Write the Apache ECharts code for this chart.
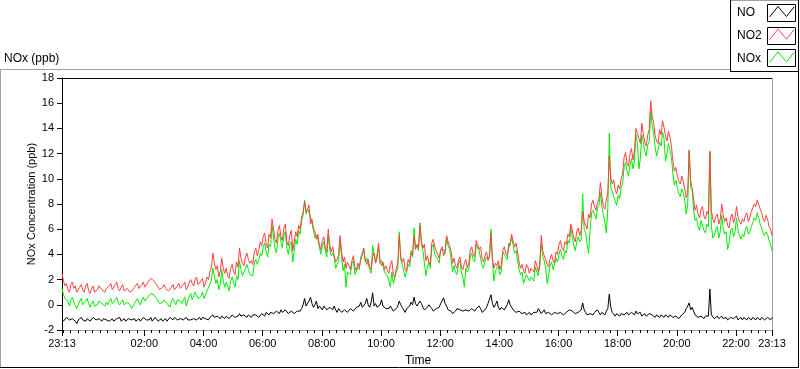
<!DOCTYPE html>
<html><head><meta charset="utf-8">
<script src="https://cdn.jsdelivr.net/npm/echarts@6/dist/echarts.min.js"></script>
<style>html,body{margin:0;padding:0;background:#fff}#c{width:800px;height:369px}</style>
</head><body><div id="c"></div>
<script>
// Samples every 3 minutes, starting at 23:13 (offset in hours)
const sampleStepHours = 0.05;
const seriesNames = ['NO', 'NO2', 'NOx'];

const no = [
 -1.1,-1.3,-1.2,-1.0,-1.0,-1.2,-1.3,-1.1,-1.2,-1.3,-1.5,-1.2,-1.1,-1.0,-1.2,-1.3,-1.3,-1.1,-1.1,-1.3,
 -1.2,-1.0,-1.1,-1.2,-1.3,-1.1,-1.2,-1.3,-1.1,-1.0,-1.2,-1.1,-1.3,-1.2,-1.1,-1.3,-1.2,-1.1,-1.2,-1.0,
 -1.3,-1.2,-1.1,-1.3,-1.2,-1.1,-1.0,-1.2,-1.2,-1.1,-1.3,-1.2,-1.1,-1.3,-1.2,-1.0,-1.1,-1.2,-1.3,-1.2,
 -1.0,-1.3,-1.2,-1.0,-1.1,-1.3,-1.2,-1.1,-1.3,-1.2,-1.1,-1.3,-1.2,-1.0,-1.1,-1.2,-1.0,-1.1,-1.2,-1.3,
 -1.1,-1.0,-1.2,-1.1,-1.0,-1.2,-1.1,-1.2,-1.3,-1.1,-1.0,-1.2,-1.1,-1.0,-1.2,-1.0,-0.9,-1.1,-1.1,-1.2,
 -1.0,-1.1,-0.8,-1.0,-1.1,-0.9,-1.0,-1.1,-0.9,-1.0,-1.1,-0.9,-0.8,-1.1,-1.0,-0.8,-0.9,-1.0,-1.1,-0.9,
 -0.7,-0.9,-1.0,-0.8,-0.9,-1.0,-0.8,-0.9,-1.0,-0.8,-0.9,-0.8,-0.7,-1.0,-0.9,-0.7,-0.8,-0.9,-0.6,-0.7,
 -0.8,-0.6,-0.5,-0.7,-0.7,-0.5,-0.6,-0.7,-0.4,-0.6,-0.6,-0.4,-0.5,-0.7,-0.7,-0.5,-0.4,-0.7,-0.6,-0.5,
 -0.4,-0.5,-0.3,0.0,0.5,-0.1,0.0,0.3,0.6,0.1,-0.2,0.0,0.3,-0.3,-0.1,-0.2,-0.4,-0.1,-0.2,-0.4,
 -0.5,-0.2,-0.3,-0.4,-0.1,-0.4,-0.6,-0.3,-0.4,-0.6,-0.7,-0.4,-0.3,-0.6,-0.5,-0.3,-0.2,-0.5,-0.6,-0.2,
 -0.3,-0.1,0.2,-0.2,-0.1,0.1,0.5,0.0,-0.2,0.2,0.95,-0.1,0.1,-0.2,-0.3,0.0,0.4,-0.1,-0.2,-0.3,
 -0.4,-0.3,-0.1,-0.2,-0.5,-0.5,-0.3,-0.1,0.3,0.0,-0.2,-0.4,-0.6,-0.3,-0.4,-0.1,0.2,0.0,0.6,0.1,
 -0.1,0.0,0.3,0.1,-0.2,-0.4,-0.4,-0.2,0.0,-0.1,-0.3,-0.5,-0.6,-0.3,-0.4,-0.2,0.1,0.2,0.55,0.1,
 -0.1,-0.4,-0.3,-0.5,-0.7,-0.6,-0.5,-0.3,-0.2,-0.4,-0.4,-0.5,-0.6,-0.4,-0.3,-0.5,-0.5,-0.3,-0.4,-0.5,
 -0.3,-0.4,-0.1,-0.3,-0.6,-0.5,-0.4,-0.2,0.1,0.2,0.8,0.1,-0.2,0.0,0.3,-0.2,-0.4,-0.2,-0.1,-0.4,
 -0.3,0.0,0.4,0.0,-0.2,-0.4,-0.5,-0.6,-0.7,-0.5,-0.5,-0.7,-0.6,-0.6,-0.8,-0.7,-0.6,-0.8,-0.7,-0.6,
 -0.5,-0.6,-0.3,-0.5,-0.7,-0.6,-0.4,-0.7,-0.8,-0.6,-0.6,-0.8,-0.7,-0.6,-0.5,-0.7,-0.8,-0.6,-0.6,-0.8,
 -0.7,-0.6,-0.5,-0.4,-0.3,-0.5,-0.6,-0.7,-0.8,-0.6,-0.5,-0.4,0.15,-0.4,-0.6,-0.8,-0.9,-0.7,-0.7,-0.8,
 -0.6,-0.7,-0.4,-0.6,-0.8,-0.6,-0.7,-0.8,-0.5,-0.3,0.85,-0.2,-0.6,-0.7,-0.9,-0.7,-0.8,-0.9,-0.7,-0.6,
 -0.8,-0.7,-0.6,-0.8,-0.9,-0.6,-0.7,-0.8,-0.5,-0.7,-0.8,-0.6,-0.9,-0.8,-0.7,-0.9,-0.8,-0.7,-0.6,-0.8,
 -0.9,-1.0,-0.8,-0.9,-1.0,-0.8,-0.9,-1.0,-0.8,-0.9,-1.0,-0.8,-0.9,-1.0,-1.1,-0.9,-0.9,-1.1,-1.0,-0.8,
 -0.9,-0.6,-0.3,-0.1,0.15,-0.4,-0.2,-0.5,-0.8,-0.9,-1.0,-1.1,-0.9,-1.0,-1.1,-0.9,-1.0,-0.9,1.25,-0.8,
 -0.9,-1.1,-1.0,-0.9,-1.1,-1.0,-0.9,-1.1,-1.0,-1.0,-1.2,-1.1,-1.0,-0.9,-1.1,-1.0,-0.9,-1.2,-1.1,-1.0,
 -1.2,-1.0,-1.1,-1.2,-1.0,-1.1,-1.2,-1.0,-1.1,-1.2,-1.0,-1.1,-1.2,-1.0,-1.1,-1.2,-1.3,-1.0,-1.1,-1.2,-1.0
];

const no2 = [
 2.5,1.9,1.5,1.7,1.2,1.0,1.6,1.8,1.3,1.5,1.0,0.9,1.4,1.6,1.2,1.0,1.5,1.7,1.1,0.9,
 1.3,1.5,1.0,0.9,1.2,1.5,1.4,1.2,1.1,1.0,1.3,1.2,1.5,1.7,1.2,1.1,1.6,1.8,1.3,1.1,
 1.4,1.6,1.1,1.0,1.3,1.4,1.0,0.9,1.2,1.4,1.5,1.7,1.3,1.2,1.6,1.8,1.4,1.5,1.8,1.7,
 2.1,2.2,1.9,1.8,1.6,1.4,1.2,1.1,1.4,1.6,1.3,1.2,1.1,1.0,1.4,1.6,1.2,1.1,1.5,1.7,
 1.3,1.2,1.6,1.8,1.2,1.4,1.8,2.0,1.7,1.5,2.0,2.2,1.6,1.5,1.9,2.1,1.4,1.7,2.2,2.0,
 2.6,3.0,4.1,3.3,2.8,3.1,2.2,2.7,3.7,2.9,2.5,2.9,2.3,2.1,2.9,3.2,2.6,2.4,3.4,3.0,
 4.5,3.7,3.3,3.1,3.8,4.1,3.6,3.3,3.5,3.2,4.2,4.5,3.9,4.3,5.0,4.7,5.4,5.7,4.8,4.5,
 5.6,5.3,6.8,6.0,5.2,4.9,5.9,6.3,5.4,5.1,6.1,6.4,5.0,4.7,5.5,5.9,4.3,5.0,5.8,5.4,
 6.3,6.0,7.0,7.3,8.2,7.4,7.6,7.9,6.4,6.8,6.1,5.8,5.2,5.6,4.7,4.4,5.1,5.4,4.5,4.2,
 6.0,4.8,4.2,4.6,3.9,3.4,3.6,4.0,5.5,4.2,3.4,3.8,2.9,3.4,3.1,2.8,3.5,3.9,3.0,2.7,
 3.3,3.0,3.6,3.9,4.5,3.6,3.2,3.6,3.0,2.8,3.8,4.1,3.3,3.7,4.9,3.5,3.1,3.4,2.8,3.1,
 2.7,2.5,3.2,3.5,2.4,2.2,2.9,3.3,5.5,3.8,3.4,3.7,2.8,2.6,3.6,3.3,4.1,3.9,5.5,4.4,
 4.8,4.5,6.3,5.0,4.5,4.8,3.5,3.9,3.4,3.2,4.9,5.2,4.6,4.3,4.0,3.7,4.3,4.6,3.9,4.2,
 5.5,5.0,4.7,4.3,3.3,3.7,3.1,2.9,3.5,3.8,3.0,2.8,3.3,3.6,2.9,3.3,4.3,4.6,4.0,3.8,
 5.1,4.8,4.4,4.6,3.7,3.4,3.9,4.2,3.5,3.9,5.7,3.6,2.9,3.3,3.1,3.5,2.8,3.2,4.3,4.6,
 4.1,3.9,4.5,4.9,5.6,5.0,4.6,4.9,4.2,3.4,2.9,3.2,2.7,2.5,3.2,3.0,2.5,2.9,2.8,2.6,
 3.5,3.1,2.6,3.0,5.5,4.3,3.9,3.6,3.2,3.0,3.7,4.0,3.5,3.3,4.2,4.0,4.8,5.1,4.5,4.3,
 5.0,4.8,5.6,5.4,6.4,5.9,5.3,5.0,5.8,6.1,5.5,5.9,7.4,6.6,6.3,6.0,7.2,6.9,8.0,8.3,
 7.8,7.5,8.1,8.4,9.7,8.6,7.8,7.6,8.3,8.9,11.8,10.1,9.6,9.9,9.1,8.8,9.5,9.2,10.0,10.4,
 11.7,12.1,11.2,11.0,12.0,12.4,11.5,12.2,14.0,13.6,13.2,12.8,14.4,13.6,12.9,12.6,13.5,13.9,16.2,14.9,
 14.5,13.4,13.0,12.8,13.9,13.5,14.6,14.1,13.4,13.0,13.8,13.3,12.6,11.4,10.6,10.9,10.2,9.8,9.6,10.2,
 9.8,9.2,8.5,8.9,12.2,9.9,9.3,8.4,7.5,7.9,7.2,6.9,7.6,7.8,7.0,6.8,7.4,7.2,12.1,7.5,
 6.8,6.5,7.0,7.2,6.4,6.8,8.0,7.1,6.6,6.9,6.3,6.1,6.9,7.2,6.5,6.9,7.8,7.0,6.6,6.4,
 6.8,6.6,7.1,7.3,6.6,6.9,7.4,7.7,8.0,7.8,8.3,8.0,7.6,7.3,6.8,6.6,7.1,6.8,6.2,6.0,5.5
];

const nox = [
 1.3,0.8,0.5,0.6,0.3,-0.1,0.4,0.6,0.2,0.3,-0.3,-0.2,0.3,0.5,0.0,-0.1,0.3,0.5,0.1,-0.2,
 0.1,0.3,-0.1,-0.2,0.0,0.3,0.3,0.1,0.0,-0.1,0.2,0.0,0.3,0.5,0.1,0.0,0.4,0.6,0.2,0.0,
 0.2,0.4,0.0,-0.1,0.2,0.2,0.0,-0.3,-0.2,0.1,0.3,0.5,0.2,0.0,0.4,0.6,0.3,0.3,0.6,0.6,
 0.9,1.0,0.8,0.7,0.5,0.3,0.1,0.0,0.2,0.4,0.3,0.1,0.0,-0.2,0.3,0.5,0.2,0.0,0.4,0.5,
 0.3,0.1,0.4,0.6,-0.1,0.3,0.6,0.9,0.4,0.4,1.0,1.1,0.5,0.4,0.7,1.0,0.5,0.6,1.1,1.0,
 1.6,2.0,2.9,2.3,1.7,2.0,1.2,1.6,2.8,1.9,1.4,1.8,1.5,1.1,1.9,2.2,1.7,1.4,2.3,2.0,
 3.5,2.8,2.3,2.2,2.9,3.2,2.8,2.4,2.5,2.3,3.3,3.6,3.2,3.5,4.1,3.9,4.6,4.9,4.2,3.8,
 4.8,4.6,6.3,5.3,4.5,4.1,5.3,5.7,5.0,4.5,5.5,5.8,4.5,4.0,4.8,5.0,3.4,4.3,5.2,4.8,
 5.9,5.6,6.7,7.1,8.3,7.2,7.6,7.7,7.0,6.5,5.9,5.3,5.5,5.2,4.6,4.0,4.7,5.0,4.3,3.8,
 5.5,4.4,3.9,4.1,3.8,2.9,3.0,3.5,5.1,3.8,2.7,3.2,1.4,2.6,2.6,2.4,3.3,3.5,2.4,2.3,
 3.0,2.8,3.8,3.7,4.4,3.4,3.7,3.3,2.8,2.5,4.7,4.0,3.4,3.5,4.6,3.3,3.5,3.1,2.6,2.7,
 2.3,1.9,1.4,2.6,1.7,1.6,2.6,2.9,5.8,3.6,3.2,3.3,2.2,2.1,3.2,3.0,4.3,3.8,6.1,4.5,
 4.7,4.3,6.5,4.8,4.3,4.2,2.3,3.0,3.4,2.9,4.6,4.8,4.0,3.8,3.6,3.3,4.4,4.4,4.4,4.1,
 5.4,4.7,4.4,3.7,2.6,3.1,2.6,2.4,3.3,3.5,2.6,2.2,1.4,2.9,2.6,2.8,3.8,4.1,3.6,3.4,
 4.8,4.5,4.3,4.2,3.1,2.9,3.5,3.8,3.6,3.8,6.0,3.5,1.9,2.7,2.8,3.1,2.4,2.6,4.2,4.3,
 3.8,3.6,4.9,4.7,5.4,4.7,4.1,4.3,3.5,2.8,2.4,2.6,1.7,1.8,2.4,2.3,1.9,2.2,2.1,1.9,
 3.0,2.6,2.3,2.4,4.8,3.8,3.5,2.9,1.7,2.3,3.1,3.4,2.8,2.7,3.7,3.4,4.0,4.4,3.9,3.6,
 4.3,4.1,5.1,4.9,6.1,5.3,4.7,4.3,5.0,5.4,5.0,5.2,8.8,6.0,5.7,4.8,4.1,5.9,7.3,7.5,
 7.2,6.8,7.7,7.9,8.9,7.8,7.1,6.6,5.7,7.6,13.6,9.3,9.0,9.0,8.2,7.9,8.7,8.4,9.3,9.6,
 10.9,11.3,10.6,10.2,11.1,11.6,10.8,11.4,13.5,12.8,10.8,11.6,13.5,12.9,12.2,11.8,12.7,12.9,15.4,14.2,
 13.6,12.5,11.8,11.9,12.9,12.6,13.7,13.2,11.4,12.0,12.8,12.3,11.7,10.4,9.5,9.9,9.3,8.8,8.6,9.2,
 8.9,8.3,7.2,7.9,12.3,9.3,9.1,7.5,6.7,6.9,6.2,5.9,6.7,6.8,5.9,5.7,6.4,6.2,12.2,6.3,
 5.3,5.5,6.0,6.2,5.3,5.8,7.1,6.1,5.6,5.8,4.4,4.9,5.9,6.1,5.4,5.8,6.9,5.9,5.5,5.2,
 5.6,5.4,6.0,6.2,5.6,5.8,6.2,6.5,6.9,6.7,7.3,6.9,6.4,6.1,5.7,5.5,5.8,5.6,5.1,4.8,4.3
];

const xTickLabels = ['23:13','02:00','04:00','06:00','08:00','10:00','12:00','14:00','16:00','18:00','20:00','22:00','23:13'];
const yMin = -2, yMax = 18, yStep = 2;

const START_MIN = 23 * 60 + 13;
function labelToHours(label, idx) {
  if (idx === xTickLabels.length - 1) return 24;
  const [h, m] = label.split(':').map(Number);
  return (((h * 60 + m) - START_MIN + 1440) % 1440) / 60;
}
const majorVals = xTickLabels.map(labelToHours);
const minorVals = [];
for (let mins = 2; mins < 24 * 60; mins += 15) minorVals.push(mins / 60);

function toPairs(arr) { return arr.map((v, i) => [+(i * sampleStepHours).toFixed(4), v]); }

const FONT = 'Liberation Sans';
const chart = echarts.init(document.getElementById('c'), null, { renderer: 'canvas' });

const swatchColors = ['#000000', '#ff4040', '#00ee00'];
const legendGraphics = [];
seriesNames.forEach((name, k) => {
  const ty = 4 + k * 22.7;
  legendGraphics.push({ type: 'text', x: 737, y: ty + 9, style: { text: name, fill: '#000', font: '12px ' + FONT, textVerticalAlign: 'middle' } });
  legendGraphics.push({ type: 'rect', shape: { x: 767.5, y: Math.round(ty) + 0.5, width: 28, height: 17 }, style: { fill: '#fff', stroke: '#000', lineWidth: 1 } });
  legendGraphics.push({ type: 'polyline', shape: { points: [[769.5, ty + 13], [778, ty + 2.5], [786.5, ty + 12.5], [794, ty + 3]] }, style: { stroke: swatchColors[k], lineWidth: 1, fill: null } });
});

chart.setOption({
  animation: false,
  backgroundColor: '#fff',
  textStyle: { fontFamily: FONT },
  grid: { left: 62, right: 28, top: 78, bottom: 39, containLabel: false },
  xAxis: [{
    type: 'value', min: 0, max: 24,
    axisLine: { show: true, onZero: false, lineStyle: { color: '#a0a0a0', width: 1 } },
    axisTick: { show: true, customValues: minorVals, length: 3, lineStyle: { color: '#000' } },
    axisLabel: { show: true, customValues: majorVals, margin: 8, color: '#000', fontSize: 11, fontFamily: FONT,
      formatter: v => { let best = 0; majorVals.forEach((m, i) => { if (Math.abs(m - v) < Math.abs(majorVals[best] - v)) best = i; }); return xTickLabels[best]; } },
    splitLine: { show: false }
  }, {
    type: 'value', min: 0, max: 24, position: 'bottom',
    axisLine: { show: false, onZero: false },
    axisTick: { show: true, customValues: majorVals, length: 6, lineStyle: { color: '#000' } },
    axisLabel: { show: false }, splitLine: { show: false }
  }],
  yAxis: {
    type: 'value', min: yMin, max: yMax, interval: yStep,
    axisLine: { show: true, onZero: false, lineStyle: { color: '#000', width: 1 } },
    axisTick: { show: true, length: 5, lineStyle: { color: '#000' } },
    axisLabel: { margin: 8, color: '#000', fontSize: 11, fontFamily: FONT },
    splitLine: { show: false }
  },
  graphic: [
    { type: 'line', shape: { x1: 62, y1: 78.5, x2: 772, y2: 78.5 }, style: { stroke: '#000', lineWidth: 1 } },
    { type: 'line', shape: { x1: 772.5, y1: 78, x2: 772.5, y2: 331 }, style: { stroke: '#a0a0a0', lineWidth: 1 } },
    { type: 'line', shape: { x1: 0, y1: 69.5, x2: 730, y2: 69.5 }, style: { stroke: '#a0a0a0', lineWidth: 1 } },
    { type: 'line', shape: { x1: 0.5, y1: 69, x2: 0.5, y2: 368 }, style: { stroke: '#a0a0a0', lineWidth: 1 } },
    { type: 'line', shape: { x1: 0, y1: 367.5, x2: 799, y2: 367.5 }, style: { stroke: '#000', lineWidth: 1 } },
    { type: 'line', shape: { x1: 798.5, y1: 71, x2: 798.5, y2: 368 }, style: { stroke: '#000', lineWidth: 1 } },
    { type: 'line', shape: { x1: 730, y1: 0.5, x2: 798, y2: 0.5 }, style: { stroke: '#a0a0a0', lineWidth: 1 } },
    { type: 'line', shape: { x1: 730.5, y1: 0, x2: 730.5, y2: 72 }, style: { stroke: '#000', lineWidth: 1 } },
    { type: 'line', shape: { x1: 730, y1: 71.5, x2: 799, y2: 71.5 }, style: { stroke: '#000', lineWidth: 1 } },
    { type: 'line', shape: { x1: 798.5, y1: 0, x2: 798.5, y2: 72 }, style: { stroke: '#000', lineWidth: 1 } },
    { type: 'text', x: 4, y: 59, style: { text: 'NOx (ppb)', fill: '#000', font: '12px ' + FONT, textVerticalAlign: 'middle' } },
    { type: 'text', x: 32, y: 204, rotation: Math.PI / 2, style: { text: 'NOx Concentration (ppb)', fill: '#000', font: '11px ' + FONT, textAlign: 'center', textVerticalAlign: 'middle' } },
    { type: 'text', x: 418, y: 361, style: { text: 'Time', fill: '#000', font: '12px ' + FONT, textAlign: 'center', textVerticalAlign: 'middle' } }
  ].concat(legendGraphics),
  series: [
    { name: 'NO', type: 'line', data: toPairs(no), showSymbol: false, symbol: 'none', lineStyle: { color: '#000', width: 1 }, z: 2 },
    { name: 'NOx', type: 'line', data: toPairs(nox), showSymbol: false, symbol: 'none', lineStyle: { color: '#00ee00', width: 1 }, z: 3 },
    { name: 'NO2', type: 'line', data: toPairs(no2), showSymbol: false, symbol: 'none', lineStyle: { color: '#ff4040', width: 1 }, z: 4 }
  ]
});
</script>
</body></html>
